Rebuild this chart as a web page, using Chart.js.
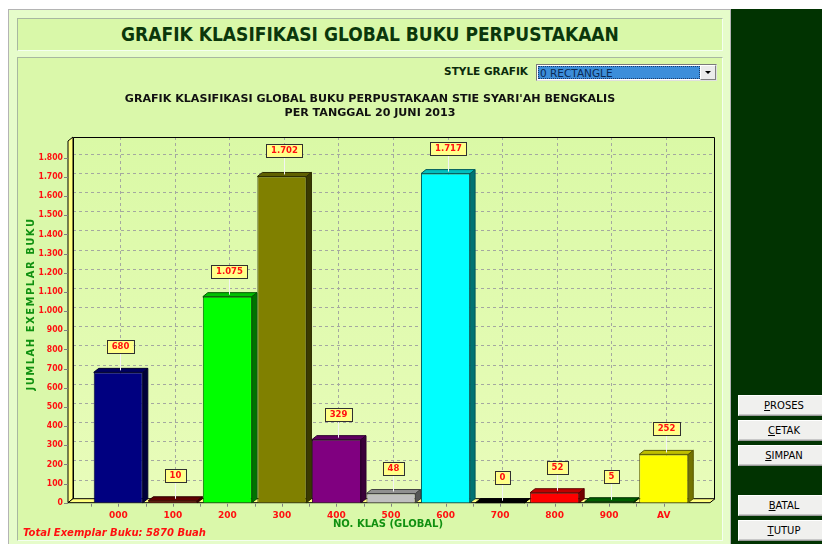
<!DOCTYPE html>
<html>
<head>
<meta charset="utf-8">
<script src="https://cdn.jsdelivr.net/npm/chart.js@4.4.1/dist/chart.umd.min.js"></script>
<style>
  html, body { margin:0; padding:0; background:#ffffff; width:822px; height:544px; overflow:hidden; }
  .abs { position:absolute; box-sizing:border-box; }
  #outer { left:8px; top:9px; width:723px; height:545px; background:#E6FCCA; border:1px solid #b4b4b4; }
  #titlebox { left:17px; top:18px; width:706px; height:33px; background:#D9F8A9; border:1px solid #a8b8a0;
    border-right-color:#f4fff0; border-bottom-color:#f4fff0;
    font:bold 19px "DejaVu Sans Condensed","DejaVu Sans",sans-serif; color:#0b370b; text-align:center; line-height:31px; }
  #chartbox { left:17px; top:57px; width:706px; height:484px; background:#DAF8AA; border:1px solid #a8b8a0;
    border-right-color:#f4fff0; border-bottom-color:#f4fff0; }
  #right { left:731px; top:9px; width:91px; height:535px; background:#013301; }
  .btn { left:738px; width:92px; height:21px; background:#F0F0EE; border:1px solid #9a9a9a;
    border-top-color:#ffffff; border-left-color:#ffffff; box-shadow: inset -1px -1px 0 #c8c8c8;
    font:10px "DejaVu Sans",sans-serif; color:#000; text-align:center; line-height:19px; }
  #stylelbl { left:400px; top:63px; width:128px; text-align:right; font:bold 10.5px "DejaVu Sans",sans-serif; color:#0a2a0a; line-height:16px; }
  #combo { left:536px; top:64px; width:181px; height:17px; background:#fff; border:1px solid #7a7a7a; border-right-color:#e0e0e0; border-bottom-color:#e0e0e0; }
  #combosel { left:1px; top:1px; width:162px; height:13px; background:#3C8EDA; border:1px dotted #1a3a6a;
    font:10.5px "DejaVu Sans",sans-serif; color:#0a2a55; line-height:12px; padding-left:1px; }
  #comboarr { left:163px; top:0px; width:16px; height:15px; background:#ECECEC; border:1px solid #fff; border-right-color:#808080; border-bottom-color:#808080; }
  #comboarr:after { content:""; position:absolute; left:4px; top:5px; border-left:3px solid transparent; border-right:3px solid transparent; border-top:3px solid #000; }
  #cv { position:absolute; left:17px; top:57px; }
</style>
</head>
<body>
<div id="outer" class="abs"></div>
<div id="titlebox" class="abs">GRAFIK KLASIFIKASI GLOBAL BUKU PERPUSTAKAAN</div>
<div id="chartbox" class="abs"></div>
<div id="right" class="abs"></div>
<div class="abs btn" style="top:395px"><u>P</u>ROSES</div>
<div class="abs btn" style="top:420px"><u>C</u>ETAK</div>
<div class="abs btn" style="top:445px"><u>S</u>IMPAN</div>
<div class="abs btn" style="top:495px"><u>B</u>ATAL</div>
<div class="abs btn" style="top:520px"><u>T</u>UTUP</div>
<div id="stylelbl" class="abs">STYLE GRAFIK</div>
<div id="combo" class="abs"><div id="combosel" class="abs">0 RECTANGLE</div><div id="comboarr" class="abs"></div></div>
<canvas id="cv" width="706" height="483"></canvas>
<script>
// ---- data ----
const categories = ['000','100','200','300','400','500','600','700','800','900','AV'];
const values = [680, 10, 1075, 1702, 329, 48, 1717, 0, 52, 5, 252];
const barColors = ['#000080','#800000','#00FF00','#808000','#800080','#C0C0C0','#00FFFF','#000000','#FF0000','#008000','#FFFF00'];
const yTicks = [0,100,200,300,400,500,600,700,800,900,1000,1100,1200,1300,1400,1500,1600,1700,1800];
const chartTitle = ["GRAFIK KLASIFIKASI GLOBAL BUKU PERPUSTAKAAN STIE SYARI'AH BENGKALIS", "PER TANGGAL 20 JUNI 2013"];
const yTitle = 'JUMLAH EXEMPLAR BUKU';
const xTitle = 'NO. KLAS (GLOBAL)';
const totalText = 'Total Exemplar Buku: 5870 Buah';

function fmt(v){ return String(v).replace(/\B(?=(\d{3})+(?!\d))/g, '.'); }
function shade(hex, f){
  const n = parseInt(hex.slice(1),16);
  const r = Math.round(((n>>16)&255)*f), g = Math.round(((n>>8)&255)*f), b = Math.round((n&255)*f);
  return 'rgb('+r+','+g+','+b+')';
}
const D = 5, DY = 4;

const deco = {
  id:'deco',
  beforeDatasetsDraw(chart){
    const {ctx, chartArea:a, scales:{x, y}} = chart;
    const base = y.getPixelForValue(0);
    const L = a.left - 18, R = a.right + 24, T = a.top, B = base - DY;
    ctx.save();
    // back plane
    const g = ctx.createLinearGradient(0, T, 0, B);
    g.addColorStop(0, '#DAF9A6'); g.addColorStop(1, '#E8FCBA');
    ctx.fillStyle = g; ctx.fillRect(L, T, R-L, B-T);
    // grid
    ctx.strokeStyle = '#a4a8a0'; ctx.lineWidth = 1; ctx.setLineDash([3,3]);
    yTicks.forEach(v => { if (v === 0) return; const yy = Math.round(y.getPixelForValue(v) - DY) + 0.5;
      ctx.beginPath(); ctx.moveTo(L, yy); ctx.lineTo(R, yy); ctx.stroke(); });
    categories.forEach((c,i) => { const xx = Math.round(x.getPixelForValue(i) + 2) + 0.5;
      ctx.beginPath(); ctx.moveTo(xx, T); ctx.lineTo(xx, B); ctx.stroke(); });
    ctx.setLineDash([]);
    // back plane outline
    ctx.strokeStyle = '#000'; ctx.beginPath();
    ctx.moveTo(L+0.5, B); ctx.lineTo(L+0.5, T+0.5); ctx.lineTo(R-0.5, T+0.5); ctx.lineTo(R-0.5, B); ctx.stroke();
    // left wall
    ctx.fillStyle = '#FFFF80';
    ctx.beginPath(); ctx.moveTo(L-D, T+DY); ctx.lineTo(L, T); ctx.lineTo(L, B); ctx.lineTo(L-D, base); ctx.closePath();
    ctx.fill(); ctx.stroke();
    // floor
    ctx.beginPath(); ctx.moveTo(L-D, base); ctx.lineTo(L, B); ctx.lineTo(R, B); ctx.lineTo(R-D, base); ctx.closePath();
    ctx.fill(); ctx.stroke();
    // y ticks & labels
    ctx.font = 'bold 8.6px "DejaVu Sans Condensed","DejaVu Sans",sans-serif';
    ctx.fillStyle = '#FF1010'; ctx.textAlign = 'right'; ctx.textBaseline = 'middle';
    ctx.strokeStyle = '#808080';
    yTicks.forEach(v => { const yy = y.getPixelForValue(v);
      ctx.fillText(fmt(v), L - 10, yy);
      ctx.beginPath(); ctx.moveTo(L-9, Math.round(yy)+0.5); ctx.lineTo(L-D, Math.round(yy)+0.5); ctx.stroke(); });
    // x ticks & labels
    ctx.font = 'bold 9px "DejaVu Sans",sans-serif'; ctx.textAlign = 'center';
    categories.forEach((c,i) => { const xx = x.getPixelForValue(i);
      ctx.fillText(c, xx, base + 12.5);
      ctx.beginPath(); ctx.moveTo(Math.round(xx)+0.5, base+1); ctx.lineTo(Math.round(xx)+0.5, base+4); ctx.stroke();
      const xb = Math.round(xx - x.width/categories.length/2)+0.5;
      ctx.beginPath(); ctx.moveTo(xb, base+1); ctx.lineTo(xb, base+4); ctx.stroke(); });
    // titles
    ctx.fillStyle = '#111'; ctx.font = 'bold 11.1px "DejaVu Sans",sans-serif';
    ctx.fillText(chartTitle[0], 353, 42); ctx.fillText(chartTitle[1], 353, 56);
    ctx.fillStyle = '#109010'; ctx.font = 'bold 10px "DejaVu Sans",sans-serif';
    ctx.fillText(xTitle, 371, base + 21.5);
    ctx.save(); ctx.translate(14, 247); ctx.rotate(-Math.PI/2);
    ctx.letterSpacing = '1.5px'; ctx.fillText(yTitle, 0, 0); ctx.restore();
    ctx.letterSpacing = '0px';
    ctx.fillStyle = '#FF1010'; ctx.textAlign = 'left';
    ctx.font = 'italic bold 10px "DejaVu Sans",sans-serif';
    ctx.fillText(totalText, 6, 476.5);
    ctx.restore();
  },
  afterDatasetsDraw(chart){
    const {ctx} = chart;
    const meta = chart.getDatasetMeta(0);
    ctx.save();
    meta.data.forEach((el, i) => {
      const p = el.getProps(['x','y','base','width'], true);
      const x0 = p.x - p.width/2, x1 = p.x + p.width/2, top = Math.min(p.y, p.base), base = p.base;
      const col = barColors[i];
      ctx.lineWidth = 1; ctx.strokeStyle = shade(col, 0.35);
      ctx.fillStyle = shade(col, 0.75);
      ctx.beginPath(); ctx.moveTo(x0, top); ctx.lineTo(x0+D, top-DY); ctx.lineTo(x1+D, top-DY); ctx.lineTo(x1, top); ctx.closePath();
      ctx.fill(); ctx.stroke();
      ctx.fillStyle = shade(col, 0.45);
      ctx.beginPath(); ctx.moveTo(x1, top); ctx.lineTo(x1+D, top-DY); ctx.lineTo(x1+D, base-DY); ctx.lineTo(x1, base); ctx.closePath();
      ctx.fill(); ctx.stroke();
    });
    // value labels
    ctx.font = 'bold 8.5px "DejaVu Sans",sans-serif'; ctx.textAlign = 'center'; ctx.textBaseline = 'middle';
    meta.data.forEach((el, i) => {
      const p = el.getProps(['x','y','base','width'], true);
      const top = Math.min(p.y, p.base);
      const t = fmt(values[i]);
      const w = Math.round(ctx.measureText(t).width + 9), h = 13;
      const cx = Math.round(p.x + 2);
      const bb = Math.round(top - 19);
      ctx.strokeStyle = '#f4f4f4'; ctx.beginPath(); ctx.moveTo(cx+0.5, bb); ctx.lineTo(cx+0.5, top-2); ctx.stroke();
      ctx.fillStyle = '#FFFF88';
      ctx.fillRect(cx - w/2, bb - h, w, h);
      ctx.strokeStyle = '#303030'; ctx.strokeRect(Math.round(cx - w/2)+0.5, bb - h + 0.5, w, h);
      ctx.fillStyle = '#FF1010'; ctx.fillText(t, cx + 0.5, bb - h/2 + 0.5);
    });
    ctx.restore();
  }
};

new Chart(document.getElementById('cv'), {
  type:'bar',
  data:{ labels: categories, datasets:[{ data: values, backgroundColor: barColors,
    borderColor: barColors.map(c => shade(c, 0.4)), borderWidth: 1,
    barPercentage: 0.9, categoryPercentage: 1.0 }] },
  options:{
    responsive:false, animation:false, devicePixelRatio:1,
    layout:{ padding:{ left:74, right:32, top:80, bottom:37.3 } },
    plugins:{ legend:{display:false}, tooltip:{enabled:false}, title:{display:false} },
    scales:{
      x:{ display:false },
      y:{ display:false, min:0, max:1908 }
    }
  },
  plugins:[deco]
});
</script>
</body>
</html>
